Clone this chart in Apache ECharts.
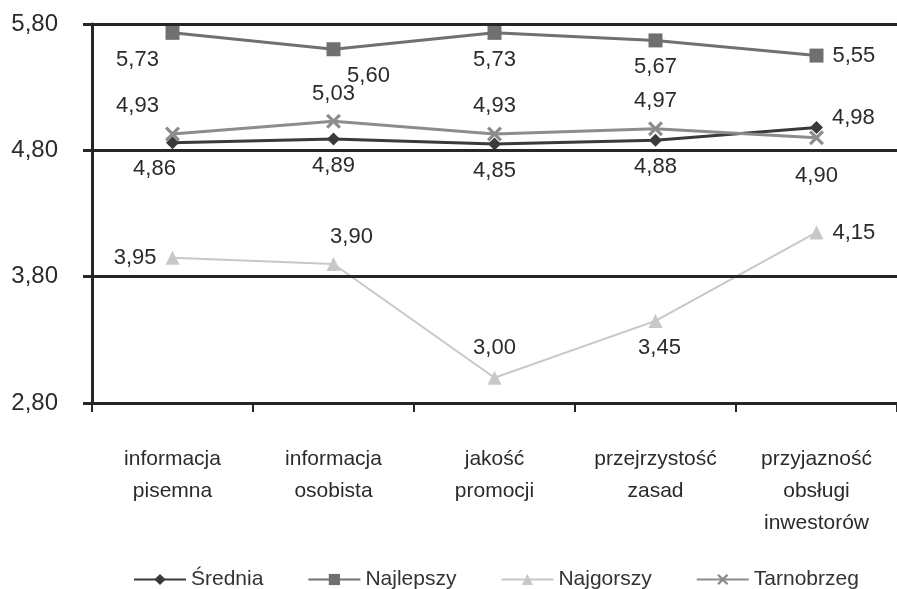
<!DOCTYPE html>
<html>
<head>
<meta charset="utf-8">
<script src="https://cdn.jsdelivr.net/npm/echarts@6/dist/echarts.min.js"></script>
<style>
  html, body { margin: 0; padding: 0; background: #ffffff; }
  #chart { width: 897px; height: 589px; }
</style>
</head>
<body>
<div id="chart"></div>
<script>
// Categories and series values
const categories = ['informacja\npisemna', 'informacja\nosobista', 'jakość\npromocji', 'przejrzystość\nzasad', 'przyjazność\nobsługi\ninwestorów'];
const srednia    = [4.86, 4.89, 4.85, 4.88, 4.98];
const najlepszy  = [5.73, 5.60, 5.73, 5.67, 5.55];
const najgorszy  = [3.95, 3.90, 3.00, 3.45, 4.15];
const tarnobrzeg = [4.93, 5.03, 4.93, 4.97, 4.90];
const yTicks     = [2.80, 3.80, 4.80, 5.80];

// Per-point label placement
const sredniaLabels = [
  { position: 'bottom', offset: [-18, 0] },
  { position: 'bottom' },
  { position: 'bottom' },
  { position: 'bottom' },
  { position: 'right', offset: [0, -10] }
];
const najlepszyLabels = [
  { position: 'bottom', offset: [-35, 0] },
  { position: 'bottom', offset: [35, 0] },
  { position: 'bottom' },
  { position: 'bottom' },
  { position: 'right' }
];
const najgorszyLabels = [
  { position: 'left' },
  { position: 'top', offset: [18, 0] },
  { position: 'top', distance: 12 },
  { position: 'bottom', offset: [4, 0] },
  { position: 'right' }
];
const tarnobrzegLabels = [
  { position: 'top', offset: [-35, 0] },
  { position: 'top' },
  { position: 'top' },
  { position: 'top' },
  { position: 'bottom', distance: 20 }
];

const FONT = "'Liberation Sans', Arial, sans-serif";
const fmt = v => v.toFixed(2).replace('.', ',');

function build(values, labels) {
  return values.map((v, i) => ({ value: v, label: labels[i] }));
}

const baseLabel = {
  show: true,
  distance: 9,
  color: '#2b2b2b',
  fontFamily: FONT,
  fontSize: 22,
  formatter: p => fmt(p.value)
};

const xMarker = 'path://M0,1.5L1.5,0L5,3.5L8.5,0L10,1.5L6.5,5L10,8.5L8.5,10L5,6.5L1.5,10L0,8.5L3.5,5Z';

const chart = echarts.init(document.getElementById('chart'));
chart.setOption({
  animation: false,
  backgroundColor: '#ffffff',
  textStyle: { fontFamily: FONT },
  grid: { left: 92, top: 24, width: 815, height: 379 },
  legend: {
    top: 564,
    left: 128,
    itemWidth: 52,
    itemHeight: 14,
    itemGap: 44,
    textStyle: { fontFamily: FONT, fontSize: 21, color: '#333' },
    data: ['Średnia', 'Najlepszy', 'Najgorszy', 'Tarnobrzeg']
  },
  xAxis: {
    type: 'category',
    data: categories,
    boundaryGap: true,
    axisLine: { show: true, lineStyle: { color: '#262626', width: 3 } },
    axisTick: { show: true, length: 9, lineStyle: { color: '#262626', width: 2 } },
    axisLabel: {
      interval: 0,
      margin: 40,
      color: '#2b2b2b',
      fontFamily: FONT,
      fontSize: 21,
      lineHeight: 32
    },
    splitLine: { show: false }
  },
  yAxis: {
    type: 'value',
    min: 2.8,
    max: 5.8,
    axisLine: { show: true, lineStyle: { color: '#262626', width: 3 } },
    axisTick: { show: true, length: 9, customValues: yTicks, lineStyle: { color: '#262626', width: 3 } },
    axisLabel: {
      customValues: yTicks,
      margin: 34,
      color: '#2b2b2b',
      fontFamily: FONT,
      fontSize: 24,
      formatter: v => fmt(v)
    },
    splitLine: { show: false }
  },
  series: [
    {
      name: 'Średnia',
      type: 'line',
      data: build(srednia, sredniaLabels),
      symbol: 'diamond',
      symbolSize: 13,
      color: '#3a3a3a',
      lineStyle: { width: 3, color: '#3a3a3a' },
      itemStyle: { color: '#3a3a3a' },
      label: baseLabel,
      markLine: {
        silent: true,
        symbol: 'none',
        label: { show: false },
        lineStyle: { color: '#262626', width: 3, type: 'solid' },
        data: yTicks.slice(1).map(v => ({ yAxis: v }))
      }
    },
    {
      name: 'Najlepszy',
      type: 'line',
      data: build(najlepszy, najlepszyLabels),
      symbol: 'rect',
      symbolSize: 14,
      color: '#707070',
      lineStyle: { width: 3, color: '#707070' },
      itemStyle: { color: '#707070' },
      label: baseLabel
    },
    {
      name: 'Najgorszy',
      type: 'line',
      data: build(najgorszy, najgorszyLabels),
      symbol: 'triangle',
      symbolSize: 14,
      color: '#c8c8c8',
      lineStyle: { width: 2, color: '#c8c8c8' },
      itemStyle: { color: '#c8c8c8' },
      label: baseLabel
    },
    {
      name: 'Tarnobrzeg',
      type: 'line',
      data: build(tarnobrzeg, tarnobrzegLabels),
      symbol: xMarker,
      symbolSize: 15,
      color: '#8c8c8c',
      lineStyle: { width: 3, color: '#8c8c8c' },
      itemStyle: { color: '#8c8c8c' },
      label: baseLabel
    }
  ]
});
</script>
</body>
</html>
